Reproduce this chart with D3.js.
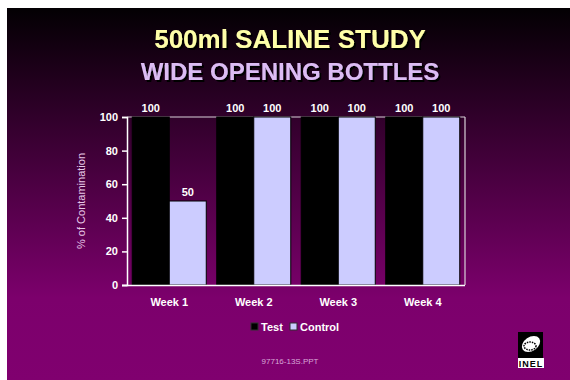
<!DOCTYPE html>
<html>
<head>
<meta charset="utf-8">
<script src="https://cdn.jsdelivr.net/npm/d3@7"></script>
<style>
  html, body { margin: 0; padding: 0; background: #ffffff; }
  svg { display: block; font-family: "Liberation Sans", Arial, sans-serif; }
</style>
</head>
<body>
<svg id="chart" width="570" height="380"></svg>
<script>
// Weekly contamination results, percent of bottles
const weeks = ["Week 1", "Week 2", "Week 3", "Week 4"];
const seriesNames = ["Test", "Control"];
const testValues = [100, 100, 100, 100];
const controlValues = [50, 100, 100, 100];
const yTicks = [0, 20, 40, 60, 80, 100];

const seriesColors = { Test: "#000000", Control: "#ccccff" };

const svg = d3.select("#chart");
const defs = svg.append("defs");

// Slide background: dark at the top fading into magenta-purple
const grad = defs.append("linearGradient")
  .attr("id", "bg").attr("x1", 0).attr("y1", 0).attr("x2", 0).attr("y2", 1);
grad.append("stop").attr("offset", "0%").attr("stop-color", "#030003");
grad.append("stop").attr("offset", "78%").attr("stop-color", "#7c006c");
grad.append("stop").attr("offset", "100%").attr("stop-color", "#80006f");

// Drop shadow for the headings
const shadow = defs.append("filter").attr("id", "shadow")
  .attr("x", "-5%").attr("y", "-20%").attr("width", "110%").attr("height", "150%");
shadow.append("feDropShadow").attr("dx", 2).attr("dy", 2).attr("stdDeviation", 0)
  .attr("flood-color", "#000000").attr("flood-opacity", 1);

svg.append("rect").attr("x", 7).attr("y", 8).attr("width", 563).attr("height", 372)
  .attr("fill", "url(#bg)");

// Titles
function heading(txt, y, size, color) {
  svg.append("text").attr("x", 290).attr("y", y).attr("text-anchor", "middle")
    .attr("font-size", size).attr("font-weight", "bold").attr("fill", color)
    .attr("filter", "url(#shadow)").text(txt);
}
heading("500ml SALINE STUDY", 48, 26, "#ffffa8");
heading("WIDE OPENING BOTTLES", 80, 24, "#dcbcf4");

// Scales
const plot = { left: 127, right: 465, top: 117, bottom: 285 };
const x = d3.scaleBand().domain(weeks).range([plot.left, plot.right])
  .paddingInner(0.124).paddingOuter(0.062);
const xs = d3.scaleBand().domain(seriesNames).range([0, x.bandwidth()]);
const y = d3.scaleLinear().domain([0, 100]).range([plot.bottom, plot.top]);

const data = weeks.map((w, i) => ({ week: w, values: [
  { series: "Test", value: testValues[i] },
  { series: "Control", value: controlValues[i] }
]}));

// Plot frame (top and right)
svg.append("line").attr("x1", plot.left).attr("x2", plot.right)
  .attr("y1", plot.top).attr("y2", plot.top).attr("stroke", "#d8d0d8").attr("stroke-width", 1.2);
svg.append("line").attr("x1", plot.right).attr("x2", plot.right)
  .attr("y1", plot.top).attr("y2", plot.bottom).attr("stroke", "#d8d0d8").attr("stroke-width", 1.2);

// Bars
const groups = svg.append("g").selectAll("g").data(data).join("g")
  .attr("transform", d => `translate(${x(d.week)},0)`);
groups.selectAll("rect").data(d => d.values).join("rect")
  .attr("x", d => xs(d.series))
  .attr("y", d => y(d.value))
  .attr("width", xs.bandwidth())
  .attr("height", d => y(0) - y(d.value))
  .attr("fill", d => seriesColors[d.series])
  .attr("stroke", "#000000").attr("stroke-width", 1);

// Value labels
groups.selectAll("text").data(d => d.values).join("text")
  .attr("x", d => xs(d.series) + xs.bandwidth() / 2)
  .attr("y", d => y(d.value) - 5)
  .attr("text-anchor", "middle")
  .attr("font-size", 11).attr("font-weight", "bold").attr("fill", "#ffffff")
  .text(d => d.value);

// Y axis
const yAxis = svg.append("g").attr("transform", `translate(${plot.left},0)`)
  .call(d3.axisLeft(y).tickValues(yTicks).tickSize(5).tickPadding(4));
yAxis.select(".domain").attr("stroke", "#ffffff").attr("stroke-width", 1.5);
yAxis.selectAll(".tick line").attr("stroke", "#ffffff").attr("stroke-width", 1.5);
yAxis.selectAll(".tick text").attr("fill", "#ffffff").attr("font-size", 11)
  .attr("font-weight", "bold").attr("font-family", "Liberation Sans, Arial, sans-serif");

// X axis
const xAxis = svg.append("g").attr("transform", `translate(0,${plot.bottom})`)
  .call(d3.axisBottom(x).tickSize(0).tickPadding(13));
xAxis.select(".domain").attr("stroke", "#ffffff").attr("stroke-width", 1.5)
  .attr("d", `M${plot.left - 5},0.5H${plot.right}`);
xAxis.selectAll(".tick text").attr("fill", "#ffffff").attr("font-size", 11)
  .attr("font-weight", "bold").attr("font-family", "Liberation Sans, Arial, sans-serif");

// Y axis title
svg.append("text")
  .attr("transform", `translate(85,${(plot.top + plot.bottom) / 2}) rotate(-90)`)
  .attr("text-anchor", "middle").attr("font-size", 11).attr("fill", "#e8c8e8")
  .text("% of Contamination");

// Legend
const legend = svg.append("g").attr("transform", "translate(251,327)");
const legendItems = [
  { name: "Test", dx: 0 },
  { name: "Control", dx: 39 }
];
legendItems.forEach(it => {
  legend.append("rect").attr("x", it.dx).attr("y", -4).attr("width", 7).attr("height", 7)
    .attr("fill", seriesColors[it.name]).attr("stroke", "#303030").attr("stroke-width", 1);
  legend.append("text").attr("x", it.dx + 10).attr("y", 4)
    .attr("font-size", 11).attr("font-weight", "bold").attr("fill", "#ffffff").text(it.name);
});

// Slide reference
svg.append("text").attr("x", 290).attr("y", 364).attr("text-anchor", "middle")
  .attr("font-size", 8).attr("fill", "#d8a8d8").text("97716-13S.PPT");

// Logo mark
const logo = svg.append("g").attr("transform", "translate(518,332)");
logo.append("rect").attr("width", 25).attr("height", 26).attr("fill", "#000000");
logo.append("ellipse").attr("cx", 13).attr("cy", 12).attr("rx", 10).attr("ry", 7)
  .attr("transform", "rotate(-35,13,12)").attr("fill", "#ffffff");
logo.append("ellipse").attr("cx", 12).attr("cy", 14).attr("rx", 6).attr("ry", 4)
  .attr("fill", "none").attr("stroke", "#000000").attr("stroke-width", 1.5)
  .attr("stroke-dasharray", "1.5,1");
logo.append("rect").attr("y", 26).attr("width", 26).attr("height", 10).attr("fill", "#ffffff");
logo.append("text").attr("x", 13).attr("y", 35).attr("text-anchor", "middle")
  .attr("font-size", 9).attr("font-weight", "bold").attr("fill", "#000000")
  .attr("letter-spacing", 1).text("INEL");
</script>
</body>
</html>
